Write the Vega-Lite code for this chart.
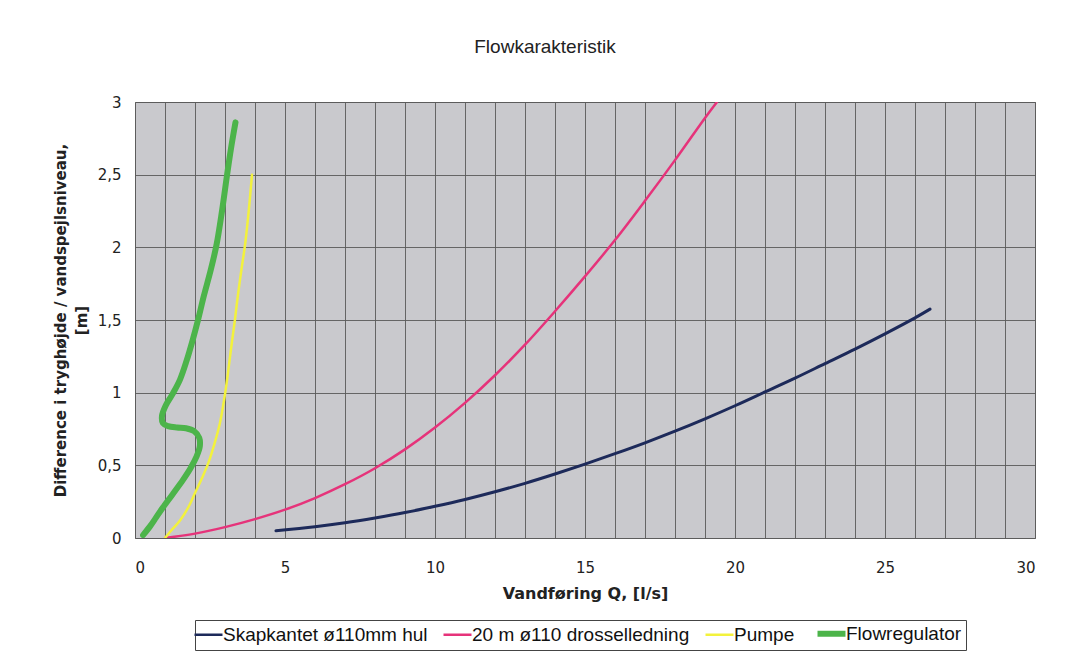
{
  "$schema": "https://vega.github.io/schema/vega-lite/v6.json",
  "autosize": {"type": "none"},
  "width": 900,
  "height": 436,
  "padding": {"left": 135, "top": 102, "right": 34, "bottom": 119},
  "background": "#ffffff",
  "title": {
    "text": "Flowkarakteristik",
    "font": "Liberation Sans",
    "fontSize": 19,
    "fontWeight": "normal",
    "color": "#222222",
    "anchor": "middle",
    "frame": "group",
    "dx": -40,
    "offset": 38
  },
  "config": {
    "view": {"fill": "#c9c9cd", "stroke": "#707070", "strokeWidth": 1},
    "axis": {
      "labelFont": "DejaVu Sans",
      "labelFontSize": 15,
      "labelColor": "#222222",
      "titleFont": "DejaVu Sans",
      "titleFontWeight": "bold",
      "titleColor": "#222222",
      "gridColor": "#5a5a5a",
      "gridOpacity": 0.9,
      "gridWidth": 1,
      "domain": false
    }
  },
  "data": {
    "values": [
      {"s": "Skapkantet ø110mm hul", "i": 1, "q": 4.7, "h": 0.05},
      {"s": "Skapkantet ø110mm hul", "i": 2, "q": 6, "h": 0.078},
      {"s": "Skapkantet ø110mm hul", "i": 3, "q": 7, "h": 0.105},
      {"s": "Skapkantet ø110mm hul", "i": 4, "q": 8, "h": 0.138},
      {"s": "Skapkantet ø110mm hul", "i": 5, "q": 9, "h": 0.175},
      {"s": "Skapkantet ø110mm hul", "i": 6, "q": 10, "h": 0.218},
      {"s": "Skapkantet ø110mm hul", "i": 7, "q": 11, "h": 0.265},
      {"s": "Skapkantet ø110mm hul", "i": 8, "q": 12, "h": 0.318},
      {"s": "Skapkantet ø110mm hul", "i": 9, "q": 13, "h": 0.376},
      {"s": "Skapkantet ø110mm hul", "i": 10, "q": 14, "h": 0.44},
      {"s": "Skapkantet ø110mm hul", "i": 11, "q": 15, "h": 0.508},
      {"s": "Skapkantet ø110mm hul", "i": 12, "q": 16, "h": 0.58},
      {"s": "Skapkantet ø110mm hul", "i": 13, "q": 17, "h": 0.655},
      {"s": "Skapkantet ø110mm hul", "i": 14, "q": 18, "h": 0.735},
      {"s": "Skapkantet ø110mm hul", "i": 15, "q": 19, "h": 0.82},
      {"s": "Skapkantet ø110mm hul", "i": 16, "q": 20, "h": 0.91},
      {"s": "Skapkantet ø110mm hul", "i": 17, "q": 21, "h": 1.005},
      {"s": "Skapkantet ø110mm hul", "i": 18, "q": 22, "h": 1.1},
      {"s": "Skapkantet ø110mm hul", "i": 19, "q": 23, "h": 1.2},
      {"s": "Skapkantet ø110mm hul", "i": 20, "q": 24, "h": 1.3},
      {"s": "Skapkantet ø110mm hul", "i": 21, "q": 25, "h": 1.405},
      {"s": "Skapkantet ø110mm hul", "i": 22, "q": 26, "h": 1.515},
      {"s": "Skapkantet ø110mm hul", "i": 23, "q": 26.5, "h": 1.575},
      {"s": "20 m ø110 drosselledning", "i": 1, "q": 1, "h": 0.0},
      {"s": "20 m ø110 drosselledning", "i": 2, "q": 2, "h": 0.03},
      {"s": "20 m ø110 drosselledning", "i": 3, "q": 3, "h": 0.075},
      {"s": "20 m ø110 drosselledning", "i": 4, "q": 4, "h": 0.13},
      {"s": "20 m ø110 drosselledning", "i": 5, "q": 5, "h": 0.195},
      {"s": "20 m ø110 drosselledning", "i": 6, "q": 6, "h": 0.275},
      {"s": "20 m ø110 drosselledning", "i": 7, "q": 7, "h": 0.37},
      {"s": "20 m ø110 drosselledning", "i": 8, "q": 8, "h": 0.48},
      {"s": "20 m ø110 drosselledning", "i": 9, "q": 9, "h": 0.61},
      {"s": "20 m ø110 drosselledning", "i": 10, "q": 10, "h": 0.76},
      {"s": "20 m ø110 drosselledning", "i": 11, "q": 11, "h": 0.93},
      {"s": "20 m ø110 drosselledning", "i": 12, "q": 12, "h": 1.12},
      {"s": "20 m ø110 drosselledning", "i": 13, "q": 13, "h": 1.33},
      {"s": "20 m ø110 drosselledning", "i": 14, "q": 14, "h": 1.56},
      {"s": "20 m ø110 drosselledning", "i": 15, "q": 15, "h": 1.8},
      {"s": "20 m ø110 drosselledning", "i": 16, "q": 16, "h": 2.05},
      {"s": "20 m ø110 drosselledning", "i": 17, "q": 17, "h": 2.32},
      {"s": "20 m ø110 drosselledning", "i": 18, "q": 18, "h": 2.6},
      {"s": "20 m ø110 drosselledning", "i": 19, "q": 19, "h": 2.89},
      {"s": "20 m ø110 drosselledning", "i": 20, "q": 19.4, "h": 3.0},
      {"s": "Pumpe", "i": 1, "q": 1.0, "h": 0.0},
      {"s": "Pumpe", "i": 2, "q": 1.2, "h": 0.05},
      {"s": "Pumpe", "i": 3, "q": 1.5, "h": 0.12},
      {"s": "Pumpe", "i": 4, "q": 1.8, "h": 0.22},
      {"s": "Pumpe", "i": 5, "q": 2.0, "h": 0.31},
      {"s": "Pumpe", "i": 6, "q": 2.25, "h": 0.42},
      {"s": "Pumpe", "i": 7, "q": 2.45, "h": 0.52},
      {"s": "Pumpe", "i": 8, "q": 2.65, "h": 0.65},
      {"s": "Pumpe", "i": 9, "q": 2.83, "h": 0.79},
      {"s": "Pumpe", "i": 10, "q": 2.97, "h": 0.95},
      {"s": "Pumpe", "i": 11, "q": 3.07, "h": 1.09},
      {"s": "Pumpe", "i": 12, "q": 3.2, "h": 1.3},
      {"s": "Pumpe", "i": 13, "q": 3.33, "h": 1.5},
      {"s": "Pumpe", "i": 14, "q": 3.43, "h": 1.67},
      {"s": "Pumpe", "i": 15, "q": 3.55, "h": 1.85},
      {"s": "Pumpe", "i": 16, "q": 3.67, "h": 2.02},
      {"s": "Pumpe", "i": 17, "q": 3.8, "h": 2.27},
      {"s": "Pumpe", "i": 18, "q": 3.9, "h": 2.5},
      {"s": "Flowregulator", "i": 1, "q": 0.27, "h": 0.02},
      {"s": "Flowregulator", "i": 2, "q": 0.5, "h": 0.08},
      {"s": "Flowregulator", "i": 3, "q": 0.7, "h": 0.14},
      {"s": "Flowregulator", "i": 4, "q": 0.93, "h": 0.21},
      {"s": "Flowregulator", "i": 5, "q": 1.25, "h": 0.3},
      {"s": "Flowregulator", "i": 6, "q": 1.6, "h": 0.4},
      {"s": "Flowregulator", "i": 7, "q": 1.85, "h": 0.48},
      {"s": "Flowregulator", "i": 8, "q": 2.05, "h": 0.56},
      {"s": "Flowregulator", "i": 9, "q": 2.16, "h": 0.63},
      {"s": "Flowregulator", "i": 10, "q": 2.14, "h": 0.69},
      {"s": "Flowregulator", "i": 11, "q": 1.97, "h": 0.735},
      {"s": "Flowregulator", "i": 12, "q": 1.7, "h": 0.755},
      {"s": "Flowregulator", "i": 13, "q": 1.4, "h": 0.76},
      {"s": "Flowregulator", "i": 14, "q": 1.1, "h": 0.77},
      {"s": "Flowregulator", "i": 15, "q": 0.93, "h": 0.79},
      {"s": "Flowregulator", "i": 16, "q": 0.9, "h": 0.84},
      {"s": "Flowregulator", "i": 17, "q": 1.02, "h": 0.91},
      {"s": "Flowregulator", "i": 18, "q": 1.25, "h": 0.99},
      {"s": "Flowregulator", "i": 19, "q": 1.5, "h": 1.09},
      {"s": "Flowregulator", "i": 20, "q": 1.72, "h": 1.22},
      {"s": "Flowregulator", "i": 21, "q": 1.92, "h": 1.36},
      {"s": "Flowregulator", "i": 22, "q": 2.1, "h": 1.5},
      {"s": "Flowregulator", "i": 23, "q": 2.3, "h": 1.67},
      {"s": "Flowregulator", "i": 24, "q": 2.52, "h": 1.84},
      {"s": "Flowregulator", "i": 25, "q": 2.72, "h": 2.02},
      {"s": "Flowregulator", "i": 26, "q": 2.9, "h": 2.25},
      {"s": "Flowregulator", "i": 27, "q": 3.07, "h": 2.5},
      {"s": "Flowregulator", "i": 28, "q": 3.2, "h": 2.68},
      {"s": "Flowregulator", "i": 29, "q": 3.35, "h": 2.86}
    ]
  },
  "mark": {"type": "line", "interpolate": "catmull-rom", "clip": true, "strokeCap": "round"},
  "encoding": {
    "x": {
      "field": "q",
      "type": "quantitative",
      "scale": {"domain": [0, 30], "nice": false, "zero": false},
      "axis": {
        "title": "Vandføring Q, [l/s]",
        "titleFontSize": 16,
        "values": [0,1,2,3,4,5,6,7,8,9,10,11,12,13,14,15,16,17,18,19,20,21,22,23,24,25,26,27,28,29,30],
        "labelExpr": "datum.value % 5 === 0 ? datum.label : ''",
        "ticks": false,
        "labelPadding": 22,
        "titlePadding": 10
      }
    },
    "y": {
      "field": "h",
      "type": "quantitative",
      "scale": {"domain": [0, 3], "nice": false},
      "axis": {
        "title": ["Difference i tryghøjde / vandspejlsniveau,", "[m]"],
        "titleFontSize": 15,
        "values": [0, 0.5, 1, 1.5, 2, 2.5, 3],
        "format": "~g",
        "labelExpr": "replace(datum.label, '.', ',')",
        "ticks": false,
        "labelPadding": 14,
        "titlePadding": 8,
        "titleLineHeight": 21
      }
    },
    "order": {"field": "i", "type": "quantitative"},
    "color": {
      "field": "s",
      "type": "nominal",
      "scale": {
        "domain": ["Skapkantet ø110mm hul", "20 m ø110 drosselledning", "Pumpe", "Flowregulator"],
        "range": ["#1d2a5a", "#e6337a", "#f3f23c", "#4cb44a"]
      },
      "legend": {
        "title": null,
        "orient": "none",
        "legendX": 60,
        "legendY": 518,
        "direction": "horizontal",
        "symbolType": "stroke",
        "symbolSize": 784,
        "strokeColor": "#444444",
        "padding": 4,
        "columnPadding": 10,
        "labelOffset": 5,
        "labelFont": "Liberation Sans",
        "labelFontSize": 19,
        "labelColor": "#111111",
        "labelLimit": 400,
        "encode": {
          "symbols": {
            "update": {
              "strokeWidth": {"signal": "datum.label === 'Flowregulator' ? 6 : 2.5"}
            }
          }
        }
      }
    },
    "strokeWidth": {
      "condition": [
        {"test": "datum.s === 'Flowregulator'", "value": 6},
        {"test": "datum.s === 'Skapkantet ø110mm hul'", "value": 3}
      ],
      "value": 2.5
    }
  }
}
